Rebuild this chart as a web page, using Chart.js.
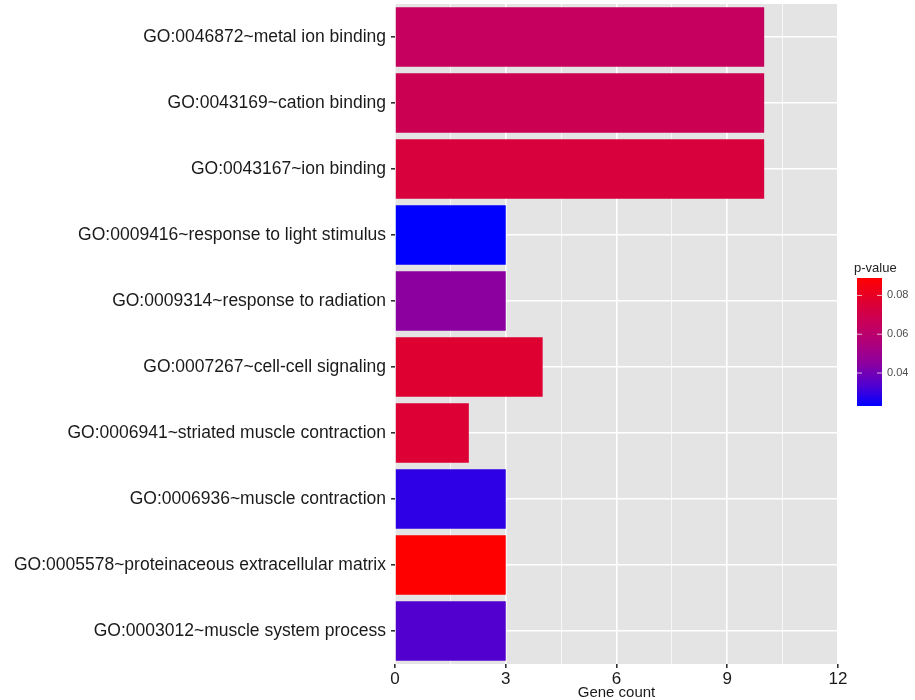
<!DOCTYPE html>
<html>
<head>
<meta charset="utf-8">
<script src="https://cdn.jsdelivr.net/npm/chart.js@4.4.1/dist/chart.umd.min.js"></script>
<style>
html,body{margin:0;padding:0;background:#fff;}
#wrap{width:915px;height:700px;position:relative;}
</style>
</head>
<body>
<div id="wrap"><canvas id="c" width="915" height="700"></canvas></div>
<script>
const categories = [
  "GO:0046872~metal ion binding",
  "GO:0043169~cation binding",
  "GO:0043167~ion binding",
  "GO:0009416~response to light stimulus",
  "GO:0009314~response to radiation",
  "GO:0007267~cell-cell signaling",
  "GO:0006941~striated muscle contraction",
  "GO:0006936~muscle contraction",
  "GO:0005578~proteinaceous extracellular matrix",
  "GO:0003012~muscle system process"
];
const geneCount = [10, 10, 10, 3, 3, 4, 2, 3, 3, 3];
const pValue = [0.0646, 0.0679, 0.0738, 0.023, 0.0448, 0.0768, 0.0762, 0.029, 0.089, 0.034];
const xTicks = [0, 3, 6, 9, 12];
const legendTicks = [0.04, 0.06, 0.08];

// colour ramp (low p = blue, high p = red)
const rampStops = [
  [0.00, [0, 0, 255]],
  [0.15, [76, 0, 212]],
  [0.33, [140, 0, 160]],
  [0.50, [176, 0, 120]],
  [0.65, [200, 0, 90]],
  [0.80, [220, 0, 54]],
  [1.00, [255, 0, 0]]
];
const pMin = Math.min(...pValue), pMax = Math.max(...pValue);
function rampColor(t){
  t = Math.max(0, Math.min(1, t));
  for (let i = 1; i < rampStops.length; i++){
    const [t1, c1] = rampStops[i], [t0, c0] = rampStops[i-1];
    if (t <= t1){
      const f = (t - t0) / (t1 - t0);
      const c = c0.map((v, k) => Math.round(v + (c1[k] - v) * f));
      return `rgb(${c[0]},${c[1]},${c[2]})`;
    }
  }
  return 'rgb(255,0,0)';
}
function colorFor(p){ return rampColor((p - pMin) / (pMax - pMin)); }

const FONT = "'Liberation Sans', Arial, sans-serif";

const bgPlugin = {
  id:'bg',
  beforeDraw(chart){
    const {ctx, chartArea:a} = chart;
    ctx.save();
    ctx.fillStyle = '#e4e4e4';
    ctx.fillRect(a.left, a.top, a.right-a.left, a.bottom-a.top);
    ctx.restore();
  }
};

const colorbarPlugin = {
  id:'colorbar',
  afterDraw(chart){
    const ctx = chart.ctx;
    const x0=857, x1=882, top=278, bottom=406;
    ctx.save();
    const grad = ctx.createLinearGradient(0,bottom,0,top);
    for(let i=0;i<=40;i++){
      grad.addColorStop(i/40, rampColor(i/40));
    }
    ctx.fillStyle = grad;
    ctx.fillRect(x0, top, x1-x0, bottom-top);
    ctx.font = "13px " + FONT;
    ctx.fillStyle = '#222';
    ctx.textBaseline = 'middle';
    ctx.textAlign = 'left';
    ctx.fillText('p-value', 854, 268);
    ctx.font = "11px " + FONT;
    ctx.fillStyle = '#4d4d4d';
    legendTicks.forEach(v=>{
      const y = bottom - (v-pMin)/(pMax-pMin)*(bottom-top);
      ctx.strokeStyle = 'rgba(255,255,255,0.7)';
      ctx.lineWidth = 1;
      ctx.beginPath();
      ctx.moveTo(x0, y); ctx.lineTo(x0+5, y);
      ctx.moveTo(x1-5, y); ctx.lineTo(x1, y);
      ctx.stroke();
      ctx.fillText(v.toFixed(2), 887, y);
    });
    ctx.restore();
  }
};

new Chart(document.getElementById('c'), {
  type:'bar',
  data:{
    labels: categories,
    datasets:[{
      data: geneCount,
      backgroundColor: pValue.map(colorFor),
      borderWidth:0,
      categoryPercentage:1,
      barPercentage:0.9
    }]
  },
  options:{
    indexAxis:'y',
    responsive:false,
    animation:false,
    layout:{padding:{left:0,right:77,top:4,bottom:0}},
    plugins:{legend:{display:false}, tooltip:{enabled:false}},
    scales:{
      x:{
        min:0, max:12,
        afterBuildTicks(scale){
          const t=[];
          for(let v=0; v<=12; v+=1.5) t.push({value:v});
          scale.ticks=t;
        },
        afterFit(scale){ scale.height = 36; scale.paddingLeft = 0; scale.paddingRight = 0; },
        border:{display:false},
        grid:{
          color:'#ffffff',
          lineWidth:ctx=> (xTicks.includes(ctx.tick && ctx.tick.value) ? 1.6 : 0.7),
          tickColor:ctx=> (xTicks.includes(ctx.tick && ctx.tick.value) ? '#333333' : 'rgba(0,0,0,0)'),
          tickLength:4
        },
        ticks:{
          autoSkip:false,
          maxRotation:0,
          padding:1,
          color:'#1a1a1a',
          font:{family:FONT,size:17},
          callback:(v)=> xTicks.includes(v) ? String(v) : ''
        },
        title:{display:true,text:'Gene count',color:'#1a1a1a',font:{family:FONT,size:15},padding:{top:0,bottom:-2}}
      },
      y:{
        afterFit(scale){ scale.width = 395; scale.paddingTop = 0; scale.paddingBottom = 0; },
        border:{display:false},
        grid:{
          color:'#ffffff',
          lineWidth:1.6,
          offset:false,
          tickColor:'#333333',
          tickLength:4
        },
        ticks:{
          padding:5,
          color:'#1a1a1a',
          font:{family:FONT,size:17.5}
        }
      }
    }
  },
  plugins:[bgPlugin, colorbarPlugin]
});
</script>
</body>
</html>
